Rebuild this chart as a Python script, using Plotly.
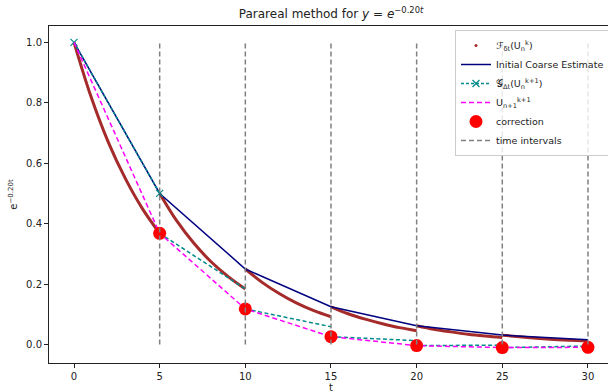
import plotly.graph_objects as go

# Time grid: coarse interval boundaries
t_nodes = [0, 5, 10, 15, 20, 25, 30]

# Initial coarse estimate at each boundary
coarse_init = [1.0, 0.5, 0.25, 0.125, 0.0625, 0.03125, 0.0156]

# Fine propagation inside each interval, sampled every unit of t
fine_t = [
    [0, 1, 2, 3, 4, 5],
    [5, 6, 7, 8, 9, 10],
    [10, 11, 12, 13, 14, 15],
    [15, 16, 17, 18, 19, 20],
    [20, 21, 22, 23, 24, 25],
    [25, 26, 27, 28, 29, 30],
]
fine_y = [
    [1.0, 0.819, 0.670, 0.549, 0.449, 0.368],
    [0.5, 0.409, 0.335, 0.274, 0.225, 0.184],
    [0.25, 0.205, 0.168, 0.137, 0.112, 0.092],
    [0.125, 0.102, 0.084, 0.069, 0.056, 0.046],
    [0.0625, 0.051, 0.042, 0.034, 0.028, 0.023],
    [0.031, 0.026, 0.021, 0.017, 0.014, 0.0115],
]

# Corrected values U_{n}^{k+1}
corrected = [1.0, 0.368, 0.118, 0.026, -0.0035, -0.0100, -0.0091]

# Coarse propagation of the corrected values, landing at the next boundary
coarse_of_corrected = [0.5, 0.184, 0.059, 0.013, -0.0018, -0.005]

# Vertical markers for the time intervals
interval_t = [5, 10, 15, 20, 25, 30]
interval_span = [0.0, 1.0]

FONT = "DejaVu Sans"
fig = go.Figure()

# Fine solution (drawn as a thick smooth curve per interval)
fx, fy = [], []
for ts, ys in zip(fine_t, fine_y):
    fx += ts + [None]
    fy += ys + [None]
fig.add_trace(go.Scatter(
    x=fx, y=fy, mode="lines", line=dict(color="#a52a2a", width=3, shape="spline"),
    showlegend=False, hoverinfo="skip"))
fig.add_trace(go.Scatter(
    x=[None], y=[None], mode="markers", marker=dict(color="#a52a2a", size=3),
    name="ℱ<sub>δt</sub>(U<sub>n</sub><sup>k</sup>)"))

# Initial coarse estimate
fig.add_trace(go.Scatter(
    x=t_nodes, y=coarse_init, mode="lines", line=dict(color="navy", width=1.5),
    name="Initial Coarse Estimate"))

# Coarse propagation of corrected values: first segment carries the markers
fig.add_trace(go.Scatter(
    x=t_nodes[0:2], y=[corrected[0], coarse_of_corrected[0]], mode="lines+markers",
    line=dict(color="darkcyan", width=1.5, dash="3px,2px"),
    marker=dict(symbol="x-thin", size=7, line=dict(color="darkcyan", width=1.2)),
    name="𝒢<sub>Δt</sub>(U<sub>n</sub><sup>k+1</sup>)"))
gx, gy = [], []
for n in range(1, len(coarse_of_corrected)):
    gx += [t_nodes[n], t_nodes[n + 1], None]
    gy += [corrected[n], coarse_of_corrected[n], None]
fig.add_trace(go.Scatter(
    x=gx, y=gy, mode="lines", line=dict(color="darkcyan", width=1.5, dash="4px,2.5px"),
    showlegend=False, hoverinfo="skip"))

# Corrected trajectory
fig.add_trace(go.Scatter(
    x=t_nodes, y=corrected, mode="lines", line=dict(color="magenta", width=1.5, dash="5px,3px"),
    name="U<sub>n+1</sub><sup>k+1</sup>"))

# Correction points
fig.add_trace(go.Scatter(
    x=t_nodes[1:], y=corrected[1:], mode="markers",
    marker=dict(color="red", size=13, line=dict(width=0)),
    name="correction"))

# Time interval boundaries
vx, vy = [], []
for t in interval_t:
    vx += [t, t, None]
    vy += interval_span + [None]
fig.add_trace(go.Scatter(
    x=vx, y=vy, mode="lines", line=dict(color="gray", width=1.5, dash="5px,3px"),
    name="time intervals"))

fig.update_layout(
    width=608, height=391,
    margin=dict(l=49, r=0, t=26, b=28, autoexpand=False),
    paper_bgcolor="white", plot_bgcolor="white",
    font=dict(family=FONT, size=10, color="#222"),
    title=dict(text="Parareal method for <i>y</i> = <i>e</i><sup>−0.20<i>t</i></sup>",
               x=331 / 608, xanchor="center", y=1 - 14 / 391, yanchor="middle",
               font=dict(family=FONT, size=12, color="#222")),
    showlegend=True,
    legend=dict(x=(455 - 49) / 559, y=(363 - 30) / 337, xanchor="left", yanchor="top",
                bgcolor="rgba(255,255,255,0.8)", bordercolor="#cccccc", borderwidth=1,
                font=dict(family=FONT, size=9.5, color="#222"), tracegroupgap=0),
    annotations=[dict(text="t", xref="paper", yref="paper",
                      x=(331 - 49) / 559, y=-(380 - 363) / 337,
                      xanchor="center", yanchor="top", showarrow=False,
                      font=dict(family=FONT, size=10, color="#222"))],
)
fig.update_xaxes(
    range=[-1.46, 31.17], tickvals=t_nodes, showgrid=False, zeroline=False,
    showline=True, linecolor="#222", linewidth=1, mirror=True, automargin=False,
    ticks="outside", ticklen=4, tickcolor="#222",
)
fig.update_yaxes(
    range=[-0.061, 1.054], tickvals=[0, 0.2, 0.4, 0.6, 0.8, 1.0], tickformat=".1f",
    showgrid=False, zeroline=False, showline=True, linecolor="#222", linewidth=1,
    automargin=False, ticks="outside", ticklen=4, tickcolor="#222",
    title=dict(text="e<sup>−0.20t</sup>", standoff=6, font=dict(size=10)),
)

fig.write_html("out.html")
